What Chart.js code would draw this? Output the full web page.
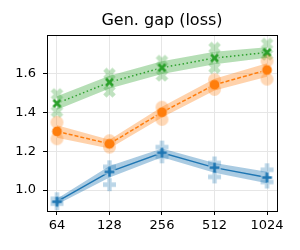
<!DOCTYPE html>
<html>
<head>
<meta charset="UTF-8">
<title>Gen. gap (loss)</title>
<style>
    body { margin: 0; background: #fff; }
    #wrap { width: 300px; height: 250px; }
</style>
</head>
<body>
<div id="wrap"><canvas id="grafica" width="300" height="250"></canvas></div>
<script src="https://cdn.jsdelivr.net/npm/chart.js"></script>
<script>
// datos
const xLabels = ['64', '128', '256', '512', '1024'];
const yTicks = [1.0, 1.2, 1.4, 1.6];

const blueMean = [0.94, 1.094, 1.193, 1.116, 1.065];
const blueLow = [0.925, 1.065, 1.170, 1.090, 1.035];
const blueHigh = [0.955, 1.125, 1.215, 1.140, 1.095];
const blueRunsA = [0.955, 1.120, 1.222, 1.140, 1.105];
const blueRunsB = [0.930, 1.028, 1.172, 1.068, 1.042];

const orangeMean = [1.303, 1.239, 1.402, 1.544, 1.620];
const orangeLow = [1.270, 1.215, 1.375, 1.515, 1.585];
const orangeHigh = [1.335, 1.260, 1.430, 1.575, 1.655];
const orangeRunsA = [1.350, 1.255, 1.428, 1.570, 1.667];
const orangeRunsB = [1.265, 1.222, 1.365, 1.520, 1.573];

const greenMean = [1.448, 1.557, 1.632, 1.682, 1.711];
const greenLow = [1.415, 1.525, 1.600, 1.650, 1.684];
const greenHigh = [1.485, 1.590, 1.665, 1.715, 1.738];
const greenRunsA = [1.495, 1.600, 1.667, 1.734, 1.755];
const greenRunsB = [1.405, 1.510, 1.592, 1.632, 1.700];

const BLUE = '#1f77b4', ORANGE = '#ff7f0e', GREEN = '#2ca02c';

function pts(arr) { return arr.map((v, i) => ({ x: i, y: v })); }

// marcadores estilo matplotlib (P, o, X) dibujados en un canvas pequeno
function marker(kind, color, size, edge, alpha) {
    const c = document.createElement('canvas');
    c.width = c.height = size + 4;
    const g = c.getContext('2d');
    const m = (size + 4) / 2, r = size / 2, t = size / 6;
    g.globalAlpha = alpha;
    g.translate(m, m);
    if (kind === 'X') g.rotate(Math.PI / 4);
    g.beginPath();
    if (kind === 'o') {
        g.arc(0, 0, r, 0, Math.PI * 2);
    } else {
        const w = kind === 'X' ? t * 1.1 : t;
        g.moveTo(-w, -r); g.lineTo(w, -r); g.lineTo(w, -w); g.lineTo(r, -w);
        g.lineTo(r, w); g.lineTo(w, w); g.lineTo(w, r); g.lineTo(-w, r);
        g.lineTo(-w, w); g.lineTo(-r, w); g.lineTo(-r, -w); g.lineTo(-w, -w);
        g.closePath();
    }
    g.fillStyle = color;
    g.fill();
    if (edge) {
        g.lineWidth = 1.2;
        g.strokeStyle = '#fff';
        g.stroke();
    }
    return c;
}

function band(low, high, color) {
    return [
        { data: pts(high), borderWidth: 0, pointRadius: 0, fill: false, borderColor: 'transparent' },
        { data: pts(low), borderWidth: 0, pointRadius: 0, fill: '-1', borderColor: 'transparent', backgroundColor: color }
    ];
}

function runs(a, b, style) {
    return [a, b].map(arr => ({ data: pts(arr), showLine: false, pointStyle: style, pointRadius: 7 }));
}

function meanLine(arr, color, dash, style) {
    return { data: pts(arr), borderColor: color, borderWidth: 1.5, borderDash: dash, pointStyle: style, pointRadius: 6, fill: false };
}

const boxPlugin = {
    id: 'box',
    afterDraw(chart) {
        const a = chart.chartArea, g = chart.ctx;
        g.save();
        g.strokeStyle = '#000';
        g.lineWidth = 1;
        g.strokeRect(Math.round(a.left) + 0.5, Math.round(a.top) + 0.5, Math.round(a.right - a.left), Math.round(a.bottom - a.top));
        g.restore();
    }
};

const datasets = [
    ...band(blueLow, blueHigh, 'rgba(31,119,180,0.38)'),
    ...band(orangeLow, orangeHigh, 'rgba(255,127,14,0.35)'),
    ...band(greenLow, greenHigh, 'rgba(44,160,44,0.35)'),
    ...runs(blueRunsA, blueRunsB, marker('P', BLUE, 13, false, 0.3)),
    ...runs(orangeRunsA, orangeRunsB, marker('o', ORANGE, 13, false, 0.3)),
    ...runs(greenRunsA, greenRunsB, marker('X', GREEN, 13, false, 0.3)),
    meanLine(blueMean, BLUE, [], marker('P', BLUE, 11, true, 1)),
    meanLine(orangeMean, ORANGE, [4, 2], marker('o', ORANGE, 11, true, 1)),
    meanLine(greenMean, GREEN, [1.5, 2.5], marker('X', GREEN, 11, true, 1))
];

Chart.defaults.font.family = '"DejaVu Sans", sans-serif';
Chart.defaults.color = '#000';

new Chart(document.getElementById('grafica'), {
    type: 'line',
    data: { datasets },
    plugins: [boxPlugin],
    options: {
        responsive: false,
        animation: false,
        events: [],
        layout: { padding: { left: 0, right: 23, top: 0, bottom: 0 } },
        plugins: {
            legend: { display: false },
            tooltip: { enabled: false },
            title: {
                display: true,
                fullSize: false,
                text: 'Gen. gap (loss)',
                font: { size: 16, weight: 'normal' },
                color: '#000',
                padding: { top: 11, bottom: 5 }
            }
        },
        scales: {
            x: {
                type: 'linear',
                min: -0.19,
                max: 4.19,
                afterBuildTicks: s => { s.ticks = xLabels.map((_, i) => ({ value: i })); },
                afterFit: s => { s.height = 39; },
                ticks: { callback: v => xLabels[v], font: { size: 13 }, maxRotation: 0, padding: 3 },
                grid: { color: '#e6e6e6', tickColor: '#000', tickLength: 4 },
                border: { display: false }
            },
            y: {
                min: 0.892,
                max: 1.80,
                afterBuildTicks: s => { s.ticks = yTicks.map(v => ({ value: v })); },
                afterFit: s => { s.width = 47; },
                ticks: { callback: v => v.toFixed(1), font: { size: 13 }, padding: 7 },
                grid: { color: '#e6e6e6', tickColor: '#000', tickLength: 4 },
                border: { display: false }
            }
        }
    }
});
</script>
</body>
</html>
